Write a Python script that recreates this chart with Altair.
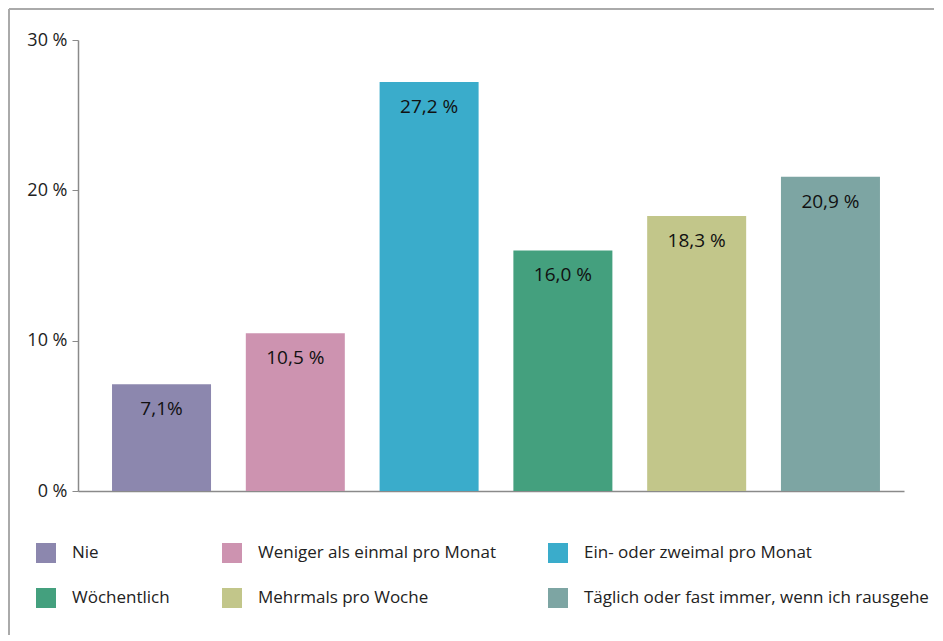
import altair as alt
import pandas as pd

categories = ["Nie", "Weniger als einmal pro Monat", "Ein- oder zweimal pro Monat",
              "Wöchentlich", "Mehrmals pro Woche", "Täglich oder fast immer, wenn ich rausgehe"]
values = [7.1, 10.5, 27.2, 16.0, 18.3, 20.9]
labels = ["7,1%", "10,5 %", "27,2 %", "16,0 %", "18,3 %", "20,9 %"]
colors = ["#8c87ae", "#cd93b0", "#3aaccb", "#44a07e", "#c2c68a", "#7da5a3"]

df = pd.DataFrame({"cat": categories, "val": values, "lab": labels})
frame = pd.DataFrame({"k": [0]})

FONT = "Open Sans"

x = alt.X("cat:N", sort=categories, axis=alt.Axis(title=None, labels=False, ticks=False,
          domainColor="#8a8a8a", domainWidth=1.5),
          scale=alt.Scale(paddingInner=0.26, paddingOuter=0.217, align=0.586))
y = alt.Y("val:Q", scale=alt.Scale(domain=[0, 30], nice=False),
          axis=alt.Axis(title=None, values=[0, 10, 20, 30], grid=False,
                        labelExpr="format(datum.value, 'd') + ' %'",
                        labelFontSize=18, labelColor="#222222", labelFont=FONT,
                        tickSize=6, tickColor="#8a8a8a", domainColor="#8a8a8a",
                        domainWidth=1.5, labelPadding=5))

bars = alt.Chart(df).mark_bar().encode(
    x=x, y=y,
    color=alt.Color("cat:N", sort=categories,
                    scale=alt.Scale(domain=categories, range=colors),
                    legend=alt.Legend(title=None, orient="none", legendX=-42, legendY=503,
                                      columns=3, columnPadding=52, rowPadding=25,
                                      symbolType="square", symbolSize=400, symbolStrokeWidth=0,
                                      labelFontSize=17, labelFont=FONT, labelColor="#222222",
                                      labelOffset=16, labelLimit=400, direction="horizontal"))
)

text = alt.Chart(df).mark_text(baseline="middle", align="center", dy=25, fontSize=19,
                               font=FONT, color="#111111").encode(
    x=alt.X("cat:N", sort=categories), y="val:Q", text="lab:N")

border_left = alt.Chart(frame).mark_rule(stroke="#aaaaaa", strokeWidth=2).encode(
    x=alt.value(-69), y=alt.value(-31), y2=alt.value(595))
border_top = alt.Chart(frame).mark_rule(stroke="#aaaaaa", strokeWidth=2).encode(
    x=alt.value(-69), x2=alt.value(856), y=alt.value(-31))

chart = alt.layer(border_left, border_top, bars, text).properties(
    width=826, height=451,
    padding={"left": 70, "top": 32, "right": 30, "bottom": 144},
    autosize=alt.AutoSizeParams(type="none"),
    background="white"
).configure_view(stroke=None)

chart.save("out.html", embed_options={"renderer": "svg", "actions": False})
